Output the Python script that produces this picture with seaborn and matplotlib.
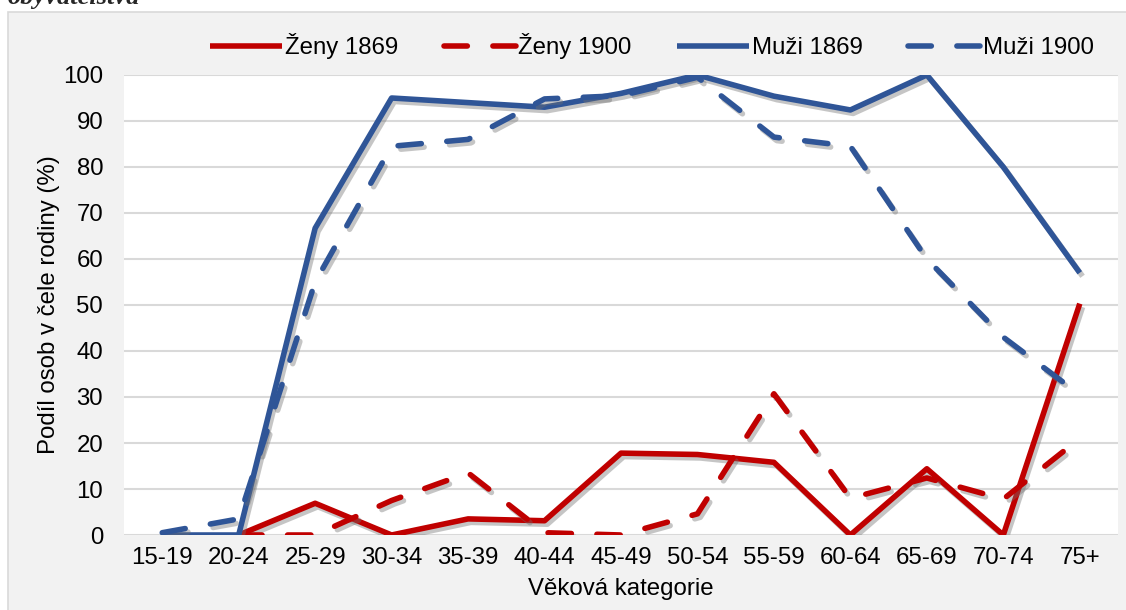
import numpy as np
import pandas as pd
import matplotlib
matplotlib.use("Agg")
import matplotlib.pyplot as plt
import matplotlib.patheffects as pe
from matplotlib.patches import Rectangle
import seaborn as sns

# -----------------------------
# data
# -----------------------------
kategorie = ["15-19", "20-24", "25-29", "30-34", "35-39", "40-44", "45-49",
             "50-54", "55-59", "60-64", "65-69", "70-74", "75+"]
zeny_1869 = [np.nan, 0, 6.9, 0, 3.5, 3.1, 17.8, 17.5, 15.8, 0, 14.4, 0, 50.3]
zeny_1900 = [np.nan, 0, 0, 7.5, 13.5, 0.5, 0, 4.6, 30.7, 8, 12.4, 7.8, 21]
muzi_1869 = [0, 0, 66.7, 95, 94, 93, 96, 100, 95.4, 92.4, 100, 80, 57]
muzi_1900 = [0.5, 3.5, 55, 84.5, 86, 94.8, 95.5, 99.5, 86.5, 84.5, 60, 43, 30.5]

DASH = (0, (4.2, 4.6))
series = [
    ("Ženy 1869", zeny_1869, "#C00000", "-"),
    ("Ženy 1900", zeny_1900, "#C00000", DASH),
    ("Muži 1869", muzi_1869, "#2F5597", "-"),
    ("Muži 1900", muzi_1900, "#2F5597", DASH),
]

sns.set_style("white")
plt.rcParams["font.family"] = ["Liberation Sans", "DejaVu Sans"]
FS = 17.3

fig = plt.figure(figsize=(11.26, 6.10), dpi=100)
fig.patch.set_facecolor("white")

# grey chart box like the office chart frame
box = Rectangle((8 / 1126, -0.01), 1.2, (610 - 12) / 610 + 0.01,
                transform=fig.transFigure, facecolor="#F2F2F2",
                edgecolor="#D9D9D9", linewidth=1.2, zorder=-5)
fig.add_artist(box)
fig.text(8 / 1126, 1 - 4 / 610, "obyvatelstva", family=["Liberation Serif"],
         fontsize=19, fontweight="bold", style="italic", va="baseline", ha="left")

ax = fig.add_axes([124 / 1126, 1 - 535 / 610, (1118 - 124) / 1126, (535 - 75) / 610])
ax.set_facecolor("white")

shadow = [pe.SimpleLineShadow(offset=(2, -2.5), shadow_color="#707070", alpha=0.4),
          pe.Normal()]

for name, vals, col, ls in series:
    df = pd.DataFrame({"kat": kategorie, "val": vals})
    sns.lineplot(data=df, x="kat", y="val", ax=ax, color=col, linewidth=4.0,
                 linestyle=ls, label=name, sort=False,
                 dash_capstyle="round", solid_capstyle="butt",
                 path_effects=shadow)

ax.set_xlim(-0.5, len(kategorie) - 0.5)
ax.set_ylim(0, 100)
ax.set_yticks(np.arange(0, 101, 10))
ax.grid(axis="y", color="#D9D9D9", linewidth=1.5, zorder=0)
ax.set_axisbelow(True)
for s in ax.spines.values():
    s.set_visible(False)
ax.tick_params(axis="x", length=0, labelsize=FS, colors="black", pad=9)
ax.tick_params(axis="y", length=0, labelsize=FS, colors="black", pad=15)

ax.set_xlabel("Věková kategorie", fontsize=FS, labelpad=6, color="black")
ax.set_ylabel("Podíl osob v čele rodiny (%)", fontsize=FS, labelpad=2, color="black")

handles, labels = ax.get_legend_handles_labels()
ax.get_legend().remove()
leg = fig.legend(handles, labels, loc="center", bbox_to_anchor=(652 / 1126, 1 - 46 / 610),
                 ncol=4, frameon=False, fontsize=FS, handlelength=3.0,
                 handletextpad=0.1, columnspacing=1.9)
for t in leg.get_texts():
    t.set_color("black")
for h in leg.legend_handles:
    h.set_path_effects([])

fig.savefig("out.png", dpi=100, facecolor=fig.get_facecolor())
